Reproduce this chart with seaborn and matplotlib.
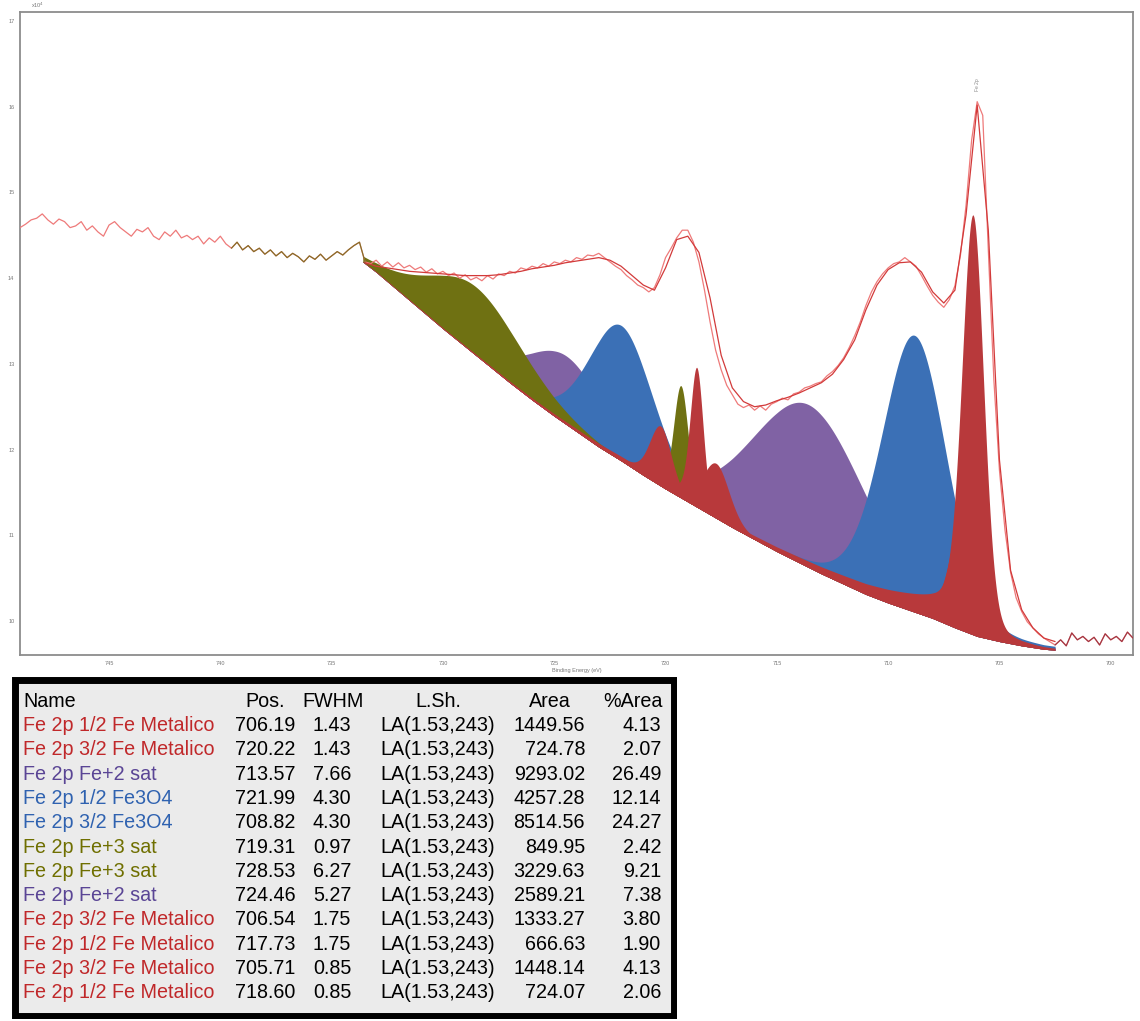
import numpy as np
import matplotlib
matplotlib.use("Agg")
import matplotlib.pyplot as plt
from matplotlib.patches import Rectangle
from matplotlib.ticker import MultipleLocator, FuncFormatter
import seaborn as sns

# ---------------- spectrum (counts, x10^4) ----------------
energy = np.linspace(749.0, 699.0, 201)  # binding energy grid, 0.25 eV step
counts = [
    14.59, 14.63, 14.68, 14.70, 14.75, 14.68, 14.63, 14.69, 14.66, 14.59,
    14.61, 14.66, 14.56, 14.61, 14.54, 14.49, 14.62, 14.66, 14.59, 14.54,
    14.49, 14.57, 14.54, 14.59, 14.49, 14.45, 14.54, 14.49, 14.56, 14.47,
    14.50, 14.45, 14.49, 14.40, 14.47, 14.42, 14.49, 14.40, 14.35, 14.42,
    14.33, 14.38, 14.31, 14.35, 14.28, 14.33, 14.26, 14.31, 14.24, 14.29,
    14.25, 14.19, 14.26, 14.22, 14.28, 14.21, 14.26, 14.31, 14.27, 14.33,
    14.38, 14.42, 14.19, 14.17, 14.21, 14.14, 14.19, 14.13, 14.18, 14.12,
    14.15, 14.10, 14.13, 14.07, 14.11, 14.05, 14.08, 14.03, 14.06, 14.00,
    14.04, 13.98, 14.01, 13.97, 14.03, 13.99, 14.05, 14.03, 14.08, 14.06,
    14.12, 14.10, 14.14, 14.12, 14.17, 14.14, 14.19, 14.17, 14.21, 14.19,
    14.24, 14.22, 14.27, 14.26, 14.29, 14.24, 14.19, 14.14, 14.10, 14.03,
    13.98, 13.92, 13.89, 13.84, 13.89, 14.04, 14.24, 14.35, 14.47, 14.56,
    14.56, 14.42, 14.19, 13.86, 13.49, 13.16, 12.93, 12.75, 12.64, 12.53,
    12.49, 12.52, 12.46, 12.51, 12.46, 12.53, 12.56, 12.60, 12.58, 12.65,
    12.67, 12.72, 12.74, 12.77, 12.79, 12.86, 12.91, 12.98, 13.07, 13.19,
    13.33, 13.49, 13.68, 13.84, 13.96, 14.05, 14.12, 14.17, 14.19, 14.24,
    14.19, 14.14, 14.03, 13.91, 13.80, 13.72, 13.66, 13.75, 13.91, 14.27,
    14.85, 15.61, 16.06, 15.90, 14.33, 12.81, 11.76, 11.06, 10.57, 10.27,
    10.11, 9.99, 9.92, 9.85, 9.80, 9.76, 9.72, 9.78, 9.71, 9.86,
    9.78, 9.82, 9.76, 9.81, 9.72, 9.85, 9.78, 9.82, 9.76, 9.87,
    9.80,
]

# fit envelope, 0.5 eV step
env_energy = np.linspace(733.5, 702.5, 63)
env_counts = [
    14.18, 14.14, 14.12, 14.10, 14.08, 14.07, 14.06, 14.05, 14.04, 14.03,
    14.03, 14.03, 14.04, 14.06, 14.08, 14.11, 14.13, 14.15, 14.18, 14.20,
    14.22, 14.24, 14.21, 14.14, 14.03, 13.92, 13.86, 14.12, 14.45, 14.49,
    14.30, 13.77, 13.10, 12.72, 12.56, 12.50, 12.52, 12.57, 12.61, 12.66,
    12.72, 12.78, 12.88, 13.05, 13.28, 13.63, 13.92, 14.10, 14.18, 14.19,
    14.07, 13.84, 13.71, 13.86, 14.74, 16.02, 14.56, 11.88, 10.59, 10.13,
    9.92, 9.80, 9.76,
]

# background under the fitted region
bg_energy = [733.6, 733.0, 732.0, 731.0, 730.0, 729.0, 728.0, 727.0, 726.0,
             725.0, 724.0, 723.0, 722.0, 721.0, 720.0, 719.0, 718.0, 717.0,
             716.0, 715.0, 714.0, 713.0, 712.0, 711.0, 710.0, 709.0, 708.0,
             707.0, 706.0, 705.0, 704.0, 703.0, 702.5]
bg_counts = [14.19, 14.07, 13.85, 13.63, 13.41, 13.20, 12.99, 12.78, 12.58,
             12.39, 12.21, 12.03, 11.87, 11.70, 11.54, 11.39, 11.24, 11.09,
             10.95, 10.81, 10.68, 10.55, 10.43, 10.31, 10.21, 10.12, 10.03,
             9.92, 9.82, 9.76, 9.71, 9.67, 9.66]

# ---------------- fitted components ----------------
comp_names = [
    "Fe 2p 1/2 Fe Metalico", "Fe 2p 3/2 Fe Metalico", "Fe 2p Fe+2 sat",
    "Fe 2p 1/2 Fe3O4", "Fe 2p 3/2 Fe3O4", "Fe 2p Fe+3 sat", "Fe 2p Fe+3 sat",
    "Fe 2p Fe+2 sat", "Fe 2p 3/2 Fe Metalico", "Fe 2p 1/2 Fe Metalico",
    "Fe 2p 3/2 Fe Metalico", "Fe 2p 1/2 Fe Metalico",
]
comp_pos = [706.19, 720.22, 713.57, 721.99, 708.82, 719.31, 728.53, 724.46,
            706.54, 717.73, 705.71, 718.60]
comp_fwhm = [1.43, 1.43, 7.66, 4.30, 4.30, 0.97, 6.27, 5.27, 1.75, 1.75, 0.85, 0.85]
comp_lsh = ["LA(1.53,243)"] * 12
comp_area = [1449.56, 724.78, 9293.02, 4257.28, 8514.56, 849.95, 3229.63,
             2589.21, 1333.27, 666.63, 1448.14, 724.07]
comp_pct = [4.13, 2.07, 26.49, 12.14, 24.27, 2.42, 9.21, 7.38, 3.80, 1.90, 4.13, 2.06]
comp_height = [4.90, 0.70, 1.90, 1.58, 3.23, 1.31, 0.80, 0.80, 1.50, 0.64, 1.20, 1.63]
comp_kind = ["metal", "metal", "fe2", "fe3o4", "fe3o4", "fe3", "fe3", "fe2",
             "metal", "metal", "metal", "metal"]

fill_colors = {"metal": "#b8393b", "fe2": "#8062a4", "fe3o4": "#3b70b6", "fe3": "#6f7112"}
text_colors = {"metal": "#c0282a", "fe2": "#5a4595", "fe3o4": "#2f62b0", "fe3": "#6f6f00"}
layer = {"fe2": 0, "fe3o4": 1, "fe3": 2, "metal": 3}

SHAPE_WIDTH = 0.8   # visible width relative to the tabulated FWHM
LOR_MIX = 0.2       # Lorentzian fraction of the line shape
TAIL_AMP = 0.06     # metallic high-BE tail
TAIL_DECAY = 5.0


def line_shape(e, pos, fwhm, height, metallic):
    hw = SHAPE_WIDTH * fwhm / 2.0
    u = (e - pos) / hw
    y = (1 - LOR_MIX) * np.exp(-np.log(2) * u ** 2) + LOR_MIX / (1 + u ** 2)
    if metallic:
        d = np.clip(e - pos, 0, None)
        y = y + TAIL_AMP * np.exp(-d / TAIL_DECAY) * (1 - np.exp(-(d / hw) ** 2))
    return height * y


# ---------------- figure ----------------
sns.set_theme(style="white")
plt.rcParams["font.family"] = ["Liberation Sans", "DejaVu Sans"]

W, H = 1140, 1021
fig = plt.figure(figsize=(W / 100, H / 100), dpi=100)
fig.patch.set_facecolor("white")

ax = fig.add_axes([20 / W, 1 - 655 / H, (1133 - 20) / W, (655 - 12) / H])
ax.set_facecolor("white")

# components on a fine grid over the fitted region
e_fine = np.linspace(bg_energy[0], bg_energy[-1], 1500)
bg_fine = np.interp(e_fine, bg_energy[::-1], bg_counts[::-1])
for i in range(len(comp_pos)):
    kind = comp_kind[i]
    top = bg_fine + line_shape(e_fine, comp_pos[i], comp_fwhm[i], comp_height[i],
                               kind == "metal")
    ax.fill_between(e_fine, bg_fine, top, color=fill_colors[kind],
                    linewidth=0, zorder=2 + layer[kind] * 0.1 + i * 0.001)

# raw data and envelope
sns.lineplot(x=energy, y=counts, ax=ax, sort=False, estimator=None,
             color="#ee7a7a", linewidth=0.9, zorder=5)
sns.lineplot(x=env_energy, y=env_counts, ax=ax, sort=False, estimator=None,
             color="#d23a3a", linewidth=0.9, zorder=6)
e_arr = np.asarray(energy)
c_arr = np.asarray(counts)
sel = (e_arr <= 739.5) & (e_arr >= 733.5)
ax.plot(e_arr[sel], c_arr[sel], color="#6d6a12", linewidth=0.9, alpha=0.8, zorder=6)
sel = e_arr <= 702.5
ax.plot(e_arr[sel], c_arr[sel], color="#8a2030", linewidth=0.9, alpha=0.75, zorder=6)

ax.set_xlim(749, 699)
ax.set_ylim(9.603, 17.106)
ax.xaxis.set_major_locator(MultipleLocator(5))
ax.xaxis.set_minor_locator(MultipleLocator(1))
ax.yaxis.set_major_locator(MultipleLocator(1))
ax.yaxis.set_minor_locator(MultipleLocator(0.2))
ax.tick_params(which="major", direction="inout", length=4, width=0.8, color="#8c8c8c",
               labelsize=4, labelcolor="#777777", pad=2)
ax.tick_params(which="minor", direction="inout", length=2, width=0.6, color="#8c8c8c")
ax.yaxis.set_major_formatter(FuncFormatter(lambda v, p: f"{v:.0f}"))
for s in ax.spines.values():
    s.set_color("#8c8c8c")
    s.set_linewidth(1.3)
ax.set_xlabel("Binding Energy (eV)", fontsize=4, color="#777777", labelpad=2)
ax.set_ylabel("")
ax.text(0.01, 1.003, "x10$^4$", transform=ax.transAxes, fontsize=4, color="#777777",
        va="bottom", ha="left")
ax.text(706.0, 16.18, "Fe 2p", fontsize=3.5, color="#888888", rotation=90,
        ha="center", va="bottom")

# ---------------- component table ----------------
tx0, ty0, tx1, ty1 = 11, 676, 677, 1019
tab = fig.add_axes([tx0 / W, 1 - ty1 / H, (tx1 - tx0) / W, (ty1 - ty0) / H])
tab.set_xlim(tx0, tx1)
tab.set_ylim(ty1, ty0)
tab.axis("off")
tab.add_patch(Rectangle((tx0 + 3.5, ty0 + 3.5), tx1 - tx0 - 7, ty1 - ty0 - 7,
                        facecolor="#ebebeb", edgecolor="black", linewidth=5.0))

fs = 14.2
row0, dy = 725.5, 24.3
hy = 701.5
tab.text(23, hy, "Name", fontsize=fs, color="black", va="center", ha="left")
tab.text(265, hy, "Pos.", fontsize=fs, color="black", va="center", ha="center")
tab.text(333, hy, "FWHM", fontsize=fs, color="black", va="center", ha="center")
tab.text(438, hy, "L.Sh.", fontsize=fs, color="black", va="center", ha="center")
tab.text(550, hy, "Area", fontsize=fs, color="black", va="center", ha="center")
tab.text(633, hy, "%Area", fontsize=fs, color="black", va="center", ha="center")
for i in range(len(comp_names)):
    y = row0 + i * dy
    tab.text(23, y, comp_names[i], fontsize=fs, color=text_colors[comp_kind[i]],
             va="center", ha="left")
    tab.text(265, y, f"{comp_pos[i]:.2f}", fontsize=fs, color="black", va="center", ha="center")
    tab.text(332, y, f"{comp_fwhm[i]:.2f}", fontsize=fs, color="black", va="center", ha="center")
    tab.text(438, y, comp_lsh[i], fontsize=fs, color="black", va="center", ha="center")
    tab.text(585, y, f"{comp_area[i]:.2f}", fontsize=fs, color="black", va="center", ha="right")
    tab.text(661, y, f"{comp_pct[i]:.2f}", fontsize=fs, color="black", va="center", ha="right")

fig.savefig("out.png", dpi=100, facecolor="white")
